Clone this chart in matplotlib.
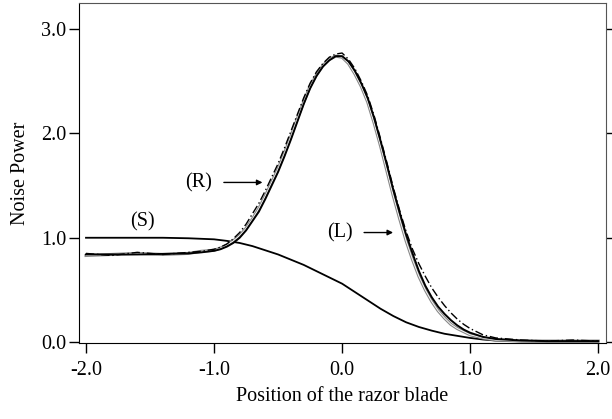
import matplotlib
matplotlib.use("Agg")
import matplotlib.pyplot as plt

plt.rcParams['font.family'] = ['Liberation Serif', 'DejaVu Serif']

# positions of the razor blade for the fitted peak curves
x_fit = [-2.0, -1.8, -1.6, -1.4, -1.2, -1.1, -1.0, -0.95, -0.9, -0.85, -0.8, -0.75,
         -0.7, -0.65, -0.6, -0.55, -0.5, -0.45, -0.4, -0.35, -0.3, -0.25, -0.2, -0.15,
         -0.1, -0.05, 0.0, 0.05, 0.1, 0.15, 0.2, 0.25, 0.3, 0.35, 0.4, 0.45, 0.5, 0.55,
         0.6, 0.65, 0.7, 0.75, 0.8, 0.85, 0.9, 0.95, 1.0, 1.1, 1.2, 1.4, 1.6, 1.8, 2.0]
y_solid = [0.84, 0.84, 0.84, 0.845, 0.85, 0.86, 0.875, 0.89, 0.915, 0.95, 1.00, 1.07,
           1.16, 1.25, 1.37, 1.50, 1.63, 1.78, 1.94, 2.11, 2.28, 2.43, 2.55, 2.64,
           2.70, 2.74, 2.74, 2.69, 2.60, 2.48, 2.34, 2.15, 1.93, 1.70, 1.46, 1.24, 1.03, 0.85,
           0.68, 0.54, 0.43, 0.34, 0.27, 0.21, 0.16, 0.12, 0.09, 0.05, 0.03, 0.015, 0.01, 0.01, 0.01]
y_gray = [0.83, 0.84, 0.85, 0.84, 0.85, 0.87, 0.88, 0.90, 0.93, 0.97, 1.02, 1.09,
          1.18, 1.28, 1.40, 1.53, 1.66, 1.81, 1.97, 2.14, 2.30, 2.45, 2.56, 2.65,
          2.71, 2.74, 2.73, 2.67, 2.57, 2.45, 2.30, 2.10, 1.88, 1.64, 1.40, 1.18, 0.97, 0.79,
          0.63, 0.50, 0.39, 0.30, 0.23, 0.17, 0.13, 0.10, 0.07, 0.04, 0.02, 0.01, 0.01, 0.01, 0.01]
y_dashdot = [0.85, 0.83, 0.86, 0.84, 0.86, 0.87, 0.89, 0.91, 0.94, 0.99, 1.05, 1.13,
             1.23, 1.33, 1.45, 1.58, 1.71, 1.86, 2.02, 2.18, 2.34, 2.48, 2.59, 2.67,
             2.73, 2.76, 2.77, 2.71, 2.62, 2.50, 2.36, 2.17, 1.95, 1.72, 1.48, 1.26, 1.06, 0.89,
             0.75, 0.63, 0.52, 0.43, 0.35, 0.28, 0.22, 0.17, 0.13, 0.07, 0.04, 0.02, 0.01, 0.02, 0.01]

# curve (S)
x_s = [-2.0, -1.8, -1.6, -1.4, -1.2, -1.0, -0.9, -0.8, -0.7, -0.6, -0.5, -0.4, -0.3,
       -0.2, -0.1, 0.0, 0.1, 0.2, 0.3, 0.4, 0.5, 0.6, 0.7, 0.8, 0.9, 1.0, 1.1, 1.2,
       1.4, 1.6, 1.8, 2.0]
y_s = [1.0, 1.0, 1.0, 1.0, 0.995, 0.985, 0.97, 0.95, 0.92, 0.88, 0.84, 0.79, 0.74,
       0.68, 0.62, 0.56, 0.48, 0.40, 0.32, 0.25, 0.19, 0.145, 0.11, 0.08, 0.06, 0.04,
       0.025, 0.015, 0.008, 0.005, 0.005, 0.005]

fig = plt.figure(figsize=(6.12, 4.19), dpi=100)
ax = fig.add_axes([0.129, 0.181, 0.861, 0.812])

ax.plot(x_s, y_s, color='black', lw=1.3)
ax.plot(x_fit, y_gray, color='#888888', lw=2.2)
ax.plot(x_fit, y_gray, color='white', lw=0.6)
ax.plot(x_fit, y_solid, color='black', lw=1.4)
ax.plot(x_fit, y_dashdot, color='black', lw=1.0, ls=(0, (6, 2, 1, 2)))

ax.set_xlim(-2.055, 2.06)
ax.set_ylim(-0.01, 3.25)
ax.set_xticks([-2.0, -1.0, 0.0, 1.0, 2.0])
ax.set_yticks([0.0, 1.0, 2.0, 3.0])
ax.xaxis.set_major_formatter(matplotlib.ticker.FormatStrFormatter('%.1f'))
ax.yaxis.set_major_formatter(matplotlib.ticker.FormatStrFormatter('%.1f'))
ax.tick_params(axis='both', direction='out', length=7, width=1, labelsize=14.5, pad=2)
ax.tick_params(axis='x', pad=6)
ax.tick_params(axis='y', right=True, labelright=False)
ax.spines['right'].set_color('#555555')
ax.spines['top'].set_color('#555555')
ax.spines['top'].set_linewidth(0.8)

ax.set_xlabel('Position of the razor blade', fontsize=14.5, labelpad=5)
ax.set_ylabel('Noise Power', fontsize=14.5, labelpad=8)

ax.text(-1.56, 1.15, '(S)', fontsize=14.5, ha='center', va='center')
ax.text(-1.12, 1.53, '(R)', fontsize=14.5, ha='center', va='center')
ax.annotate('', xy=(-0.60, 1.53), xytext=(-0.945, 1.53),
            arrowprops=dict(arrowstyle='-|>', color='black', lw=1, mutation_scale=8))
ax.text(-0.02, 1.05, '(L)', fontsize=14.5, ha='center', va='center')
ax.annotate('', xy=(0.42, 1.05), xytext=(0.15, 1.05),
            arrowprops=dict(arrowstyle='-|>', color='black', lw=1, mutation_scale=8))

fig.savefig('out.png', dpi=100)
